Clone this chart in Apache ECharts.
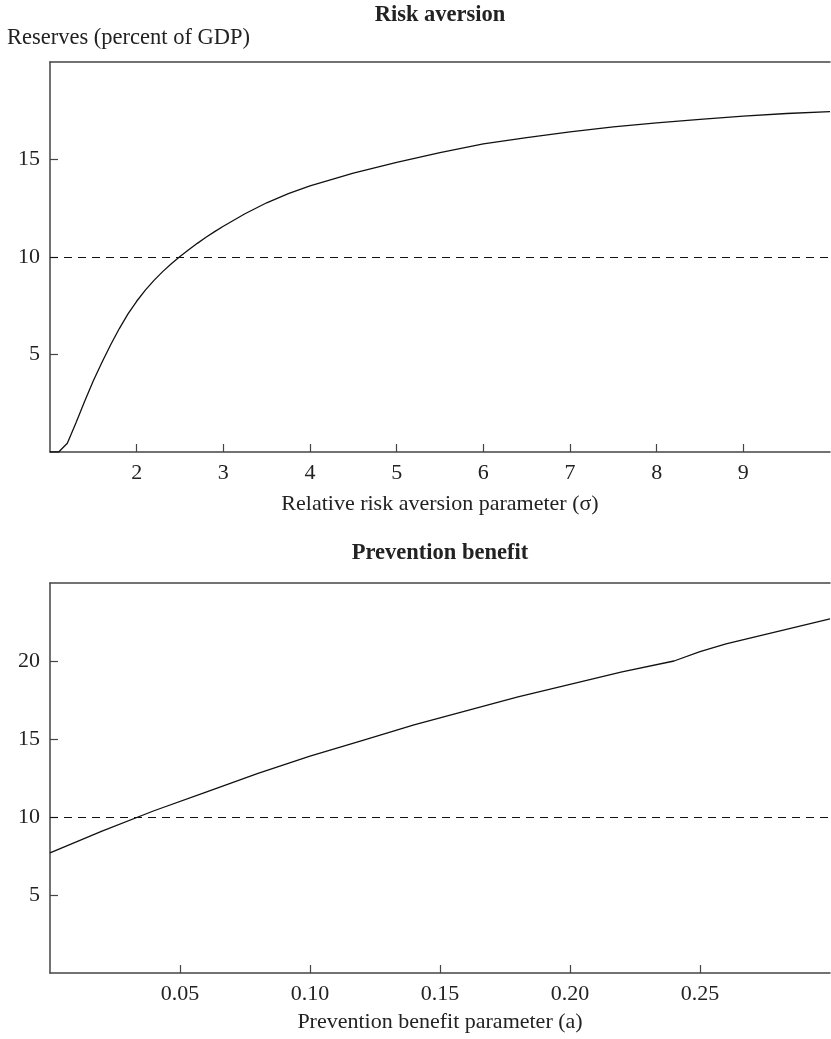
<!DOCTYPE html>
<html>
<head>
<meta charset="utf-8">
<script src="https://cdn.jsdelivr.net/npm/echarts@6/dist/echarts.min.js"></script>
<style>
html,body{margin:0;padding:0;background:#fff;}
#c{width:831px;height:1039px;}
</style>
</head>
<body>
<div id="c"></div>
<script>
// Panel 1: Risk aversion
const sigma = [1.0, 1.1, 1.2, 1.3, 1.4, 1.5, 1.6, 1.7, 1.8, 1.9, 2.0, 2.1, 2.2, 2.3, 2.4, 2.5, 2.6, 2.7, 2.8, 2.9, 3.0, 3.25, 3.5, 3.75, 4.0, 4.5, 5.0, 5.5, 6.0, 6.5, 7.0, 7.5, 8.0, 8.5, 9.0, 9.5, 10.0];
const reservesRisk = [0, 0, 0.45, 1.5, 2.6, 3.65, 4.6, 5.5, 6.33, 7.08, 7.73, 8.3, 8.8, 9.25, 9.65, 10.02, 10.37, 10.7, 11.01, 11.3, 11.58, 12.22, 12.78, 13.25, 13.65, 14.3, 14.85, 15.35, 15.8, 16.12, 16.42, 16.67, 16.88, 17.06, 17.22, 17.36, 17.45];
// Panel 2: Prevention benefit
const prevA = [0, 0.02, 0.04, 0.06, 0.08, 0.10, 0.12, 0.14, 0.16, 0.18, 0.20, 0.22, 0.24, 0.25, 0.26, 0.27, 0.28, 0.29, 0.30];
const reservesPrev = [7.7, 9.1, 10.4, 11.6, 12.8, 13.9, 14.9, 15.9, 16.8, 17.7, 18.5, 19.3, 20.0, 20.6, 21.1, 21.5, 21.9, 22.3, 22.7];
const refLevel = 10;

const FONT = '"Liberation Serif", "Times New Roman", serif';
const TXT = '#222';
const AX = '#444';

function axisCommon() {
  return {
    axisLine: {show: true, lineStyle: {color: AX, width: 1.5}},
    axisTick: {show: true, inside: true, length: 8, lineStyle: {color: AX, width: 1.2}},
    splitLine: {show: false},
    axisLabel: {color: TXT, fontFamily: FONT, fontSize: 22, showMinLabel: false, showMaxLabel: false, margin: 10}
  };
}

const chart = echarts.init(document.getElementById('c'));
const opt = {
  animation: false,
  backgroundColor: '#fff',
  grid: [
    {left: 50, right: 1, top: 62, height: 390},
    {left: 50, right: 1, top: 583, height: 390}
  ],
  xAxis: [
    Object.assign(axisCommon(), {type: 'value', gridIndex: 0, min: 1, max: 10, interval: 1,
      name: 'Relative risk aversion parameter (σ)', nameLocation: 'middle', nameGap: 41,
      nameTextStyle: {color: TXT, fontFamily: FONT, fontSize: 22}}),
    Object.assign(axisCommon(), {type: 'value', gridIndex: 1, min: 0, max: 0.3, interval: 0.05,
      axisLabel: Object.assign(axisCommon().axisLabel, {formatter: v => v.toFixed(2)}),
      name: 'Prevention benefit parameter (a)', nameLocation: 'middle', nameGap: 38,
      nameTextStyle: {color: TXT, fontFamily: FONT, fontSize: 22}}),
    {type: 'value', gridIndex: 0, position: 'top', min: 1, max: 10, axisLine: {show: true, lineStyle: {color: AX, width: 1.5}}, axisTick: {show: false}, axisLabel: {show: false}, splitLine: {show: false}},
    {type: 'value', gridIndex: 1, position: 'top', min: 0, max: 0.3, axisLine: {show: true, lineStyle: {color: AX, width: 1.5}}, axisTick: {show: false}, axisLabel: {show: false}, splitLine: {show: false}}
  ],
  yAxis: [
    Object.assign(axisCommon(), {type: 'value', gridIndex: 0, min: 0, max: 20, interval: 5}),
    Object.assign(axisCommon(), {type: 'value', gridIndex: 1, min: 0, max: 25, interval: 5})
  ],
  graphic: [
    {type: 'text', x: 440, y: 15, style: {text: 'Risk aversion', align: 'center', verticalAlign: 'middle', textAlign: 'center', textVerticalAlign: 'middle', font: 'bold 22.5px ' + FONT, fill: TXT}},
    {type: 'text', x: 7, y: 38, style: {text: 'Reserves (percent of GDP)', align: 'left', verticalAlign: 'middle', textAlign: 'left', textVerticalAlign: 'middle', font: '22.5px ' + FONT, fill: TXT}},
    {type: 'text', x: 440, y: 553, style: {text: 'Prevention benefit', align: 'center', verticalAlign: 'middle', textAlign: 'center', textVerticalAlign: 'middle', font: 'bold 22.5px ' + FONT, fill: TXT}}
  ],
  series: [
    {type: 'line', xAxisIndex: 0, yAxisIndex: 0, data: sigma.map((s, i) => [s, reservesRisk[i]]),
      showSymbol: false, smooth: false, lineStyle: {color: '#111', width: 1.3},
      markLine: {silent: true, symbol: 'none', label: {show: false}, lineStyle: {color: '#111', width: 1, type: [8, 6]}, data: [{yAxis: refLevel}]}},
    {type: 'line', xAxisIndex: 1, yAxisIndex: 1, data: prevA.map((a, i) => [a, reservesPrev[i]]),
      showSymbol: false, smooth: false, lineStyle: {color: '#111', width: 1.3},
      markLine: {silent: true, symbol: 'none', label: {show: false}, lineStyle: {color: '#111', width: 1, type: [8, 6]}, data: [{yAxis: refLevel}]}}
  ]
};
chart.setOption(opt);
</script>
</body>
</html>
